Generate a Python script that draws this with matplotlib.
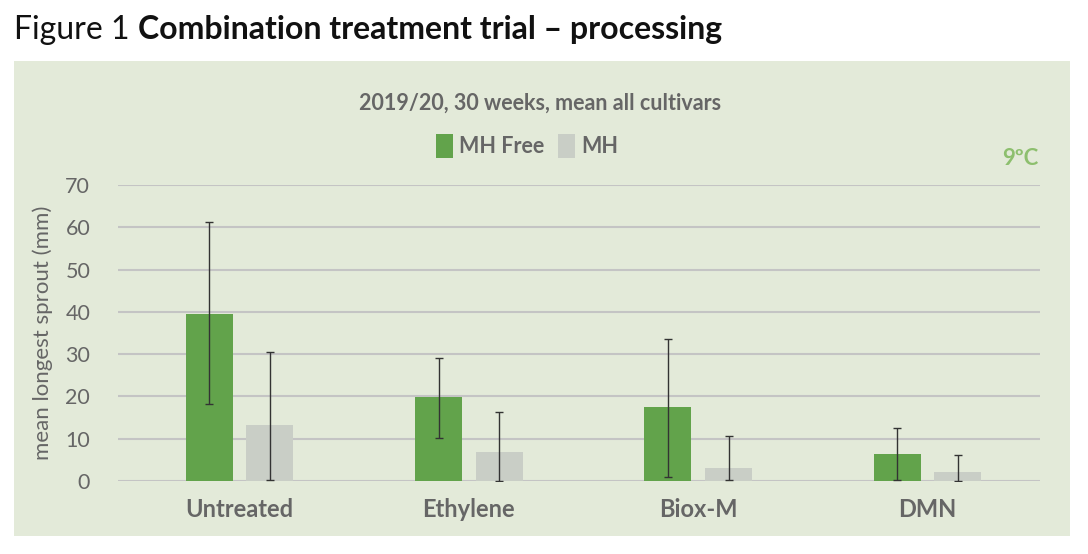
import numpy as np
import matplotlib
matplotlib.use('Agg')
import matplotlib.pyplot as plt
from matplotlib.patches import Rectangle

categories = ['Untreated', 'Ethylene', 'Biox-M', 'DMN']
mh_free = [39.6, 19.9, 17.4, 6.5]
mh_free_err_lo = [21.3, 9.7, 16.4, 6.2]
mh_free_err_hi = [21.7, 9.3, 16.2, 6.1]
mh = [13.2, 6.8, 3.1, 2.1]
mh_err_lo = [13.0, 6.7, 2.9, 2.1]
mh_err_hi = [17.2, 9.6, 7.5, 4.0]

green = '#62a34b'
grey_bar = '#c9cec6'
panel = '#e3ead9'
txt = '#666666'

plt.rcParams['font.family'] = ['Lato', 'DejaVu Sans']

fig = plt.figure(figsize=(10.88, 5.54), dpi=100)
fig.patches.append(Rectangle((14/1088, 1-536/554), (1070-14)/1088, (536-61)/554,
                             transform=fig.transFigure, facecolor=panel,
                             edgecolor='none', zorder=-10))

ax = fig.add_axes([118/1088, 1-481/554, (1040-118)/1088, (481-185)/554])
ax.set_facecolor('none')

x = np.arange(len(categories))
w = 0.205
off = 0.132
ax.bar(x - off, mh_free, w, color=green, label='MH Free', zorder=2)
ax.bar(x + off, mh, w, color=grey_bar, label='MH', zorder=2)
ax.errorbar(x - off, mh_free, yerr=[mh_free_err_lo, mh_free_err_hi], fmt='none',
            ecolor='#333333', elinewidth=1, capsize=3, capthick=1, zorder=3)
ax.errorbar(x + off, mh, yerr=[mh_err_lo, mh_err_hi], fmt='none',
            ecolor='#333333', elinewidth=1, capsize=3, capthick=1, zorder=3)

ax.set_xlim(-0.53, 3.49)
ax.set_ylim(0, 70)
ax.set_yticks(range(0, 71, 10))
ax.yaxis.grid(True, color='#c4c4c4', linewidth=1.5, zorder=1)
ax.set_axisbelow(True)
for s in ax.spines.values():
    s.set_visible(False)
ax.tick_params(axis='both', length=0)
ax.tick_params(axis='y', labelsize=15.5, labelcolor=txt, pad=20)
ax.set_xticks(x)
ax.set_xticklabels(categories, fontsize=17, fontweight='bold', color=txt)
ax.tick_params(axis='x', pad=12)
ax.set_ylabel('mean longest sprout (mm)', fontsize=16, color=txt, labelpad=9)

fig.text(540/1088, 1-103/554, '2019/20, 30 weeks, mean all cultivars', ha='center',
         va='center', fontsize=15.5, fontweight='bold', color=txt)
fig.text(1020/1088, 1-158/554, '9ºC', ha='center', va='center', fontsize=16,
         fontweight='bold', color='#8dbf6e')

leg = fig.legend(loc='center', bbox_to_anchor=(527/1088, 1-146/554), ncol=2,
                 frameon=False, fontsize=15.5, handlelength=0.8, handleheight=1.3,
                 handletextpad=0.3, columnspacing=0.6)
for t in leg.get_texts():
    t.set_color(txt)
    t.set_fontweight('bold')

t1 = fig.text(14/1088, 1-30/554, 'Figure 1 ', ha='left', va='center', fontsize=23, color='#111111')
fig.canvas.draw()
bb = t1.get_window_extent()
fig.text(bb.x1/1088, 1-30/554, 'Combination treatment trial – processing', ha='left',
         va='center', fontsize=23, fontweight='bold', color='#111111')

fig.savefig('out.png', dpi=100, facecolor='white')
